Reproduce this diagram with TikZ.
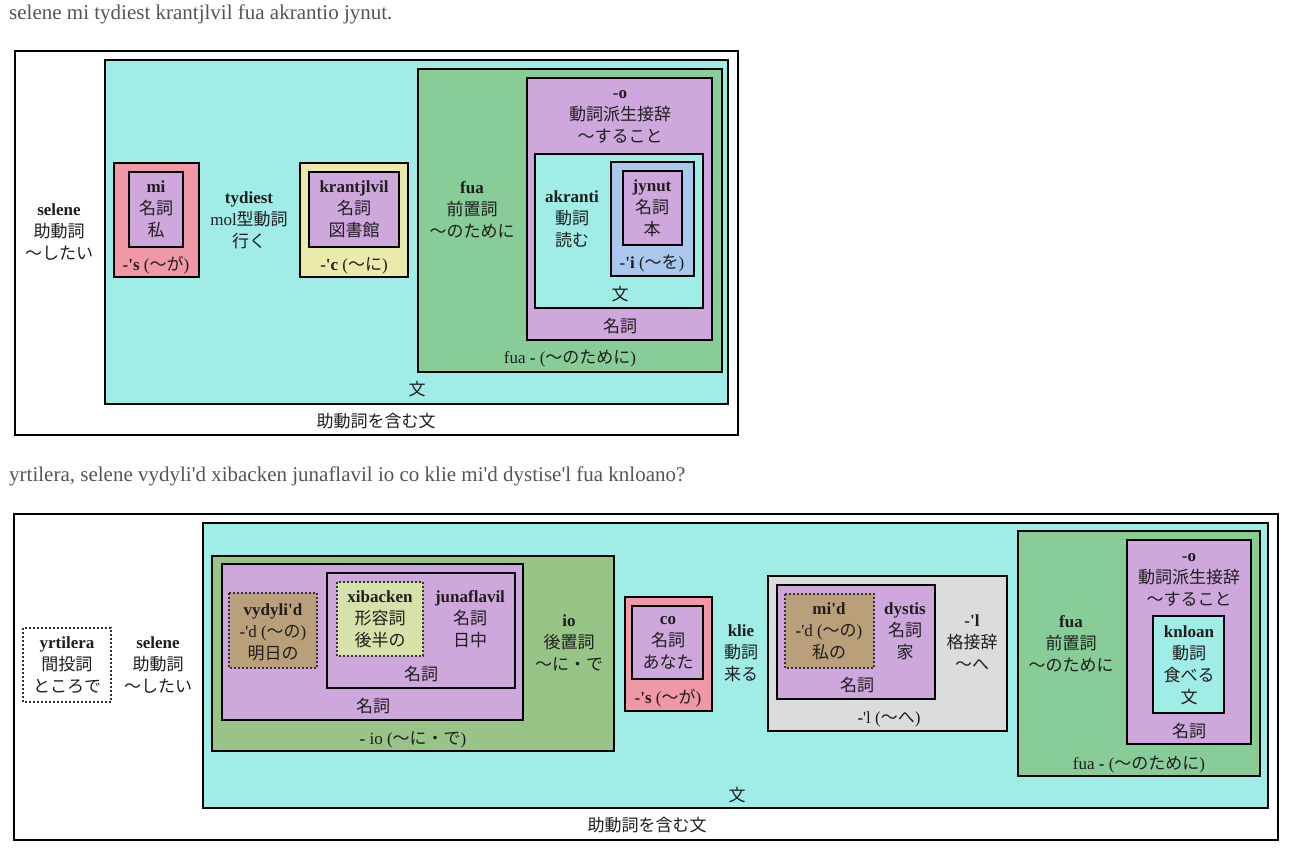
\documentclass[tikz,border=0pt]{standalone}
\usepackage{fontspec}
\setmainfont{Liberation Serif}[Ligatures=TeXOff]
\newfontfamily\jpfont{Noto Sans CJK JP}
\newcommand\jj[1]{{\jpfont #1}}
\definecolor{cteal}{RGB}{160,236,230}
\definecolor{cpink}{RGB}{240,152,168}
\definecolor{cpurple}{RGB}{206,168,220}
\definecolor{cyellow}{RGB}{234,234,170}
\definecolor{cgreen}{RGB}{136,204,152}
\definecolor{cblue}{RGB}{170,200,238}
\definecolor{colive}{RGB}{152,196,136}
\definecolor{ckhaki}{RGB}{214,226,170}
\definecolor{cbrown}{RGB}{186,160,122}
\definecolor{cgray}{RGB}{220,220,220}
\definecolor{ctitle}{RGB}{85,85,85}
\definecolor{ctext}{RGB}{30,30,30}
\newcommand\fs{\fontsize{17}{22}\selectfont}
\tikzset{
  bx/.style={draw=black, line width=2pt},
  dotbx/.style={draw=black!80, line width=2pt, dash pattern=on 2pt off 2pt},
  txt/.style={inner sep=0pt, align=center, font=\fs, text=ctext, yshift=-1.5pt},
  ttl/.style={inner sep=0pt, anchor=west, font=\fontsize{21}{25}\selectfont, text=ctitle},
}
\begin{document}
\begin{tikzpicture}[x=1pt,y=-1pt]
\useasboundingbox (0,0) rectangle (1296,850);
\fill[white] (0,0) rectangle (1296,850);
% ---------------- top ----------------
\node[ttl] (t1) at (9,14) {selene mi tydiest krantjlvil fua akrantio jynut.};
\draw[bx, fill=white] (15,51) rectangle (738,435);
\node[txt] (a0) at (376,420) {\jj{助動詞を含む文}};
\draw[bx, fill=cteal] (105,60) rectangle (728,404);
\node[txt] (a1) at (417,388) {\jj{文}};
\node[txt] (aselene) at (59,231) {\textbf{selene}\\\jj{助動詞}\\\jj{〜したい}};
% mi
\draw[bx, fill=cpink] (114,163) rectangle (199,277);
\draw[bx, fill=cpurple] (129,172) rectangle (183,247);
\node[txt] (ami) at (156,208) {\textbf{mi}\\\jj{名詞}\\\jj{私}};
\node[txt] (amis) at (156,264) {\textbf{-'s} (\jj{〜が})};
% tydiest
\node[txt] (atyd) at (249,219) {\textbf{tydiest}\\mol\jj{型動詞}\\\jj{行く}};
% krantjlvil
\draw[bx, fill=cyellow] (300,163) rectangle (408,277);
\draw[bx, fill=cpurple] (309,172) rectangle (399,247);
\node[txt] (akr) at (354,208) {\textbf{krantjlvil}\\\jj{名詞}\\\jj{図書館}};
\node[txt] (akrc) at (354,264) {\textbf{-'c} (\jj{〜に})};
% fua
\draw[bx, fill=cgreen] (418,69) rectangle (722,372);
\node[txt] (afua) at (472,208) {\textbf{fua}\\\jj{前置詞}\\\jj{〜のために}};
\node[txt] (afual) at (570,357) {fua \textbf{-} (\jj{〜のために})};
\draw[bx, fill=cpurple] (527,78) rectangle (712,340);
\node[txt] (ao) at (620,115) {\textbf{-o}\\\jj{動詞派生接辞}\\\jj{〜すること}};
\node[txt] (aol) at (620,325) {\jj{名詞}};
\draw[bx, fill=cteal] (535,154) rectangle (703,308);
\node[txt] (aak) at (572,218) {\textbf{akranti}\\\jj{動詞}\\\jj{読む}};
\node[txt] (aakl) at (620,293) {\jj{文}};
\draw[bx, fill=cblue] (611,162) rectangle (694,276);
\draw[bx, fill=cpurple] (623,171) rectangle (682,245);
\node[txt] (ajy) at (652,207) {\textbf{jynut}\\\jj{名詞}\\\jj{本}};
\node[txt] (ajyl) at (652,262) {\textbf{-'i} (\jj{〜を})};
% ---------------- bottom ----------------
\node[ttl] (t2) at (9,476) {yrtilera, selene vydyli'd xibacken junaflavil io co klie mi'd dystise'l fua knloano?};
\draw[bx, fill=white] (14,514) rectangle (1278,840);
\node[txt] (b0) at (647,824) {\jj{助動詞を含む文}};
\draw[bx, fill=cteal] (203,523) rectangle (1268,808);
\node[txt] (b1) at (737,794) {\jj{文}};
\draw[dotbx, fill=white] (23,628) rectangle (111,702);
\node[txt] (byr) at (67,664) {\textbf{yrtilera}\\\jj{間投詞}\\\jj{ところで}};
\node[txt] (bsel) at (158,664) {\textbf{selene}\\\jj{助動詞}\\\jj{〜したい}};
% io group
\draw[bx, fill=colive] (212,556) rectangle (614,751);
\node[txt] (biol) at (413,738) {\textbf{-} io (\jj{〜に・で})};
\node[txt] (bio) at (569,641) {\textbf{io}\\\jj{後置詞}\\\jj{〜に・で}};
\draw[bx, fill=cpurple] (222,564) rectangle (523,720);
\node[txt] (bn1) at (373,705) {\jj{名詞}};
\draw[dotbx, fill=cbrown] (229,593) rectangle (317,668);
\node[txt] (bvy) at (273,631) {\textbf{vydyli'd}\\\textbf{-}'d (\jj{〜の})\\\jj{明日の}};
\draw[bx, fill=cpurple] (327,573) rectangle (515,688);
\node[txt] (bn2) at (421,673) {\jj{名詞}};
\draw[dotbx, fill=ckhaki] (337,582) rectangle (423,656);
\node[txt] (bxi) at (380,618) {\textbf{xibacken}\\\jj{形容詞}\\\jj{後半の}};
\node[txt] (bju) at (470,618) {\textbf{junaflavil}\\\jj{名詞}\\\jj{日中}};
% co
\draw[bx, fill=cpink] (625,597) rectangle (712,711);
\draw[bx, fill=cpurple] (632,606) rectangle (703,679);
\node[txt] (bco) at (668,641) {\textbf{co}\\\jj{名詞}\\\jj{あなた}};
\node[txt] (bcol) at (668,697) {\textbf{-'s} (\jj{〜が})};
% klie
\node[txt] (bkl) at (741,652) {\textbf{klie}\\\jj{動詞}\\\jj{来る}};
% -'l group
\draw[bx, fill=cgray] (768,576) rectangle (1007,731);
\node[txt] (bll) at (889,718) {\textbf{-}'l (\jj{〜へ})};
\draw[bx, fill=cpurple] (777,585) rectangle (935,699);
\node[txt] (bn3) at (857,684) {\jj{名詞}};
\draw[dotbx, fill=cbrown] (785,594) rectangle (874,668);
\node[txt] (bmi) at (829,630) {\textbf{mi'd}\\\textbf{-}'d (\jj{〜の})\\\jj{私の}};
\node[txt] (bdy) at (905,630) {\textbf{dystis}\\\jj{名詞}\\\jj{家}};
\node[txt] (bl) at (972,641) {\textbf{-'l}\\\jj{格接辞}\\\jj{〜へ}};
% fua group
\draw[bx, fill=cgreen] (1018,531) rectangle (1260,776);
\node[txt] (bfual) at (1139,763) {fua \textbf{-} (\jj{〜のために})};
\node[txt] (bfua) at (1071,642) {\textbf{fua}\\\jj{前置詞}\\\jj{〜のために}};
\draw[bx, fill=cpurple] (1127,540) rectangle (1251,744);
\node[txt] (bo) at (1189,578) {\textbf{-o}\\\jj{動詞派生接辞}\\\jj{〜すること}};
\node[txt] (bol) at (1189,730) {\jj{名詞}};
\draw[bx, fill=cteal] (1153,616) rectangle (1224,713);
\node[txt] (bkn) at (1189,664) {\textbf{knloan}\\\jj{動詞}\\\jj{食べる}\\\jj{文}};
\end{tikzpicture}
\end{document}
